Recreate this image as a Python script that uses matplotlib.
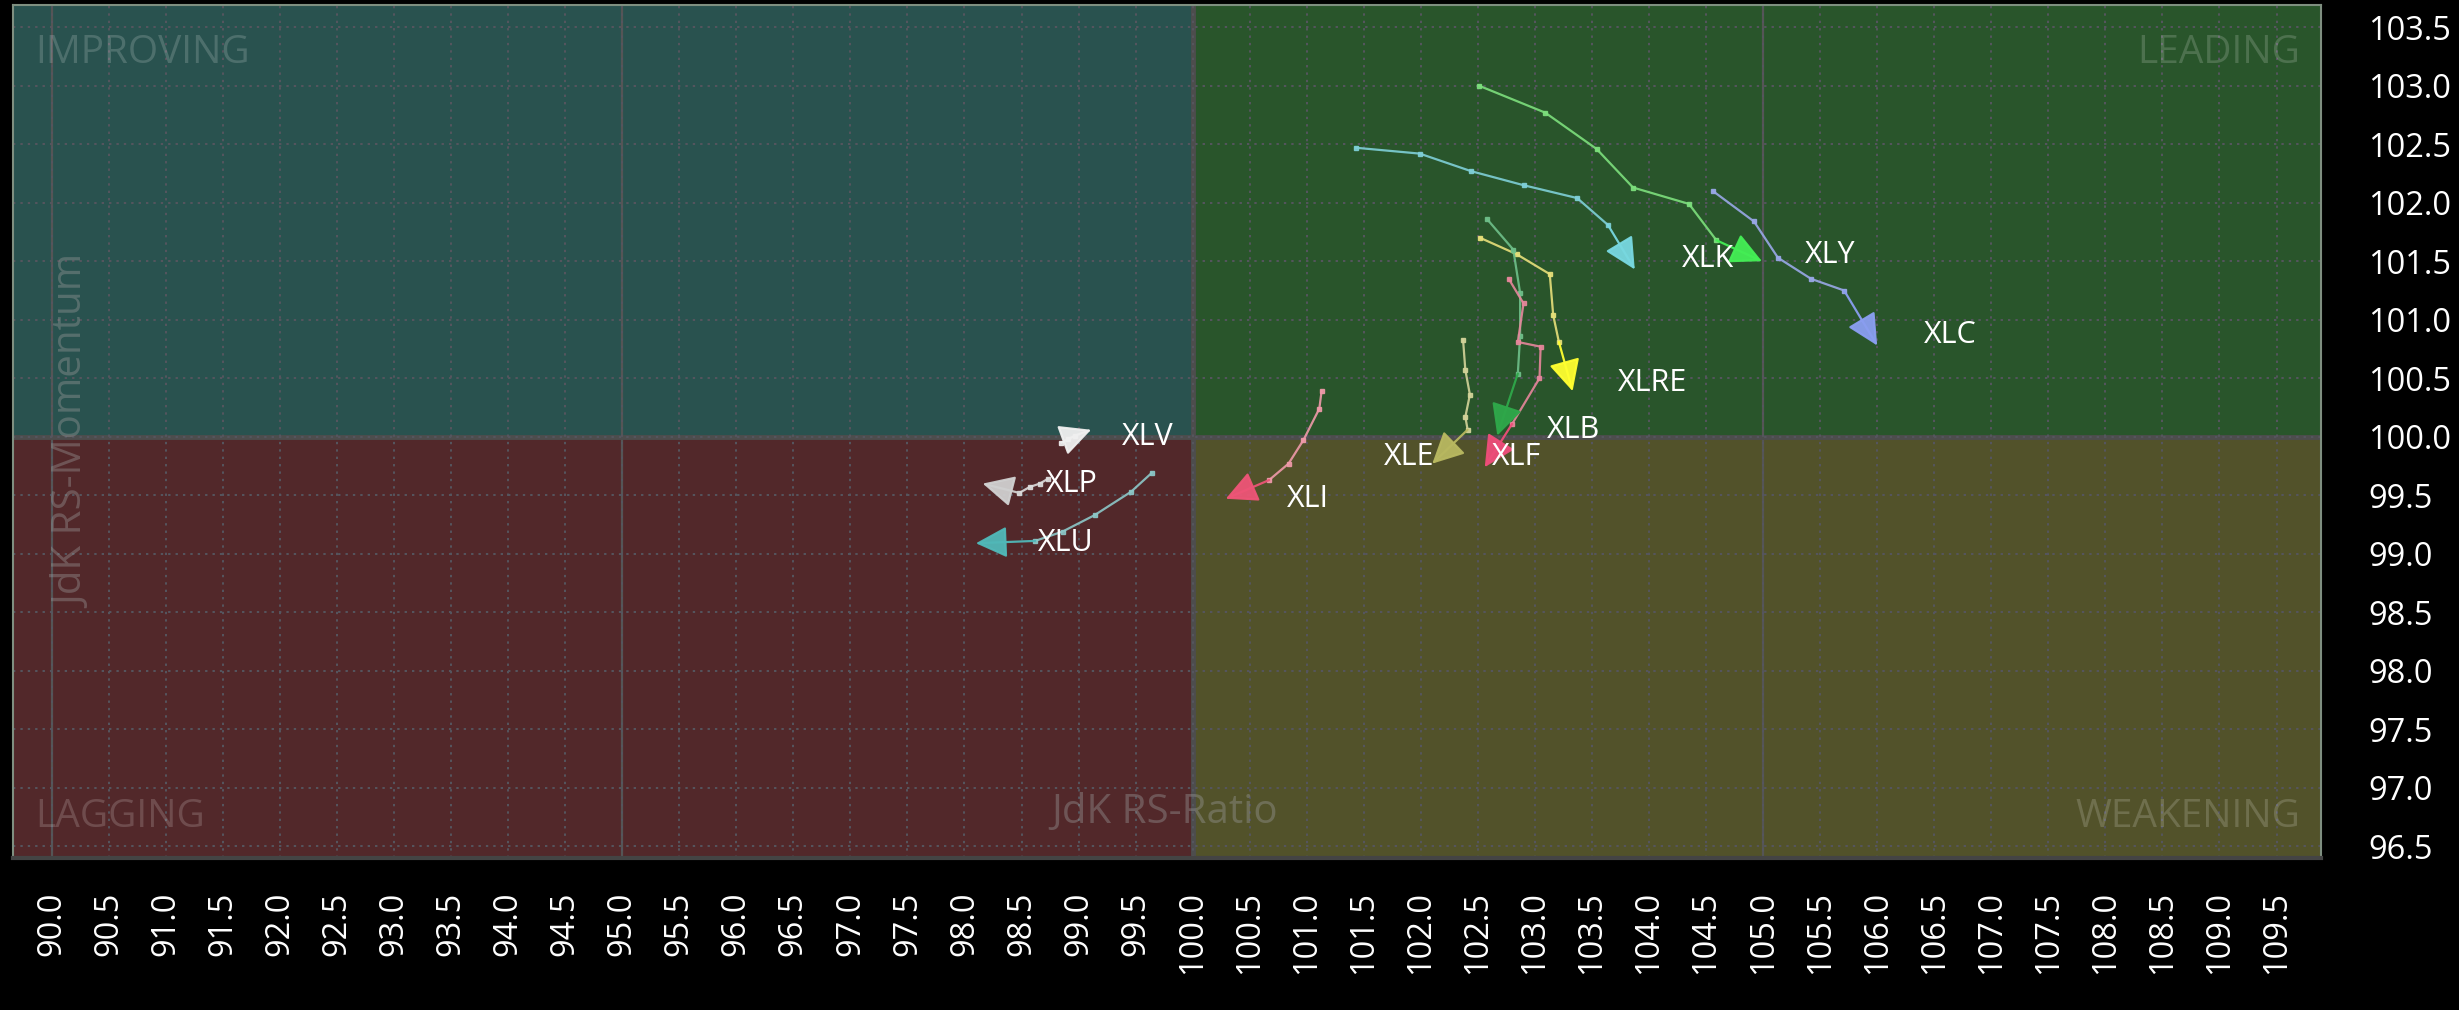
import matplotlib.pyplot as plt
from matplotlib.patches import Rectangle
import numpy as np

plt.rcParams['font.family'] = ['Open Sans', 'DejaVu Sans']

# Sector trails: JdK RS-Ratio (x) and RS-Momentum (y), oldest -> latest
tickers = ['XLK', 'XLY', 'XLC', 'XLRE', 'XLB', 'XLF', 'XLE', 'XLI', 'XLV', 'XLP', 'XLU']

rs_ratio = {
    'XLK': [101.43, 101.99, 102.44, 102.90, 103.37, 103.64, 103.875],
    'XLY': [102.51, 103.09, 103.54, 103.86, 104.35, 104.59, 104.99],
    'XLC': [104.56, 104.92, 105.13, 105.42, 105.71, 106.00],
    'XLRE': [102.52, 102.84, 103.13, 103.16, 103.21, 103.33],
    'XLB': [102.58, 102.81, 102.87, 102.87, 102.85, 102.67],
    'XLF': [102.77, 102.90, 102.85, 103.05, 103.04, 102.80, 102.56],
    'XLE': [102.37, 102.39, 102.43, 102.39, 102.41, 102.10],
    'XLI': [101.13, 101.11, 100.97, 100.84, 100.67, 100.29],
    'XLV': [98.85, 98.91, 98.97, 99.11],
    'XLP': [98.73, 98.66, 98.57, 98.48, 98.16],
    'XLU': [99.64, 99.46, 99.14, 98.86, 98.62, 98.10],
}
rs_momentum = {
    'XLK': [102.47, 102.42, 102.27, 102.15, 102.04, 101.81, 101.43],
    'XLY': [103.00, 102.77, 102.46, 102.13, 101.99, 101.68, 101.50],
    'XLC': [102.10, 101.84, 101.53, 101.35, 101.25, 100.78],
    'XLRE': [101.70, 101.56, 101.39, 101.04, 100.81, 100.39],
    'XLB': [101.86, 101.60, 101.23, 100.86, 100.54, 100.01],
    'XLF': [101.35, 101.14, 100.81, 100.77, 100.50, 100.11, 99.74],
    'XLE': [100.83, 100.57, 100.36, 100.17, 100.06, 99.77],
    'XLI': [100.39, 100.24, 99.97, 99.77, 99.63, 99.47],
    'XLV': [99.95, 99.98, 100.01, 100.06],
    'XLP': [99.64, 99.60, 99.57, 99.52, 99.60],
    'XLU': [99.69, 99.53, 99.33, 99.19, 99.11, 99.09],
}

x_ticks = np.arange(90.0, 110.0, 0.5)
y_ticks = np.arange(96.5, 104.0, 0.5)

# colours: (trail, head)
colors = {
    'XLK': ('#7fd0d8', '#78d8e0'),
    'XLY': ('#7de07d', '#44ee55'),
    'XLC': ('#9aa8e8', '#8a9ef0'),
    'XLRE': ('#e8e07a', '#ffff30'),
    'XLB': ('#6fc08a', '#2fa84a'),
    'XLF': ('#e8879c', '#ee4d7a'),
    'XLE': ('#d4d49a', '#b8b860'),
    'XLI': ('#f09aaa', '#ee5577'),
    'XLV': ('#eeeeee', '#f0f0f0'),
    'XLP': ('#dddddd', '#d0d0d0'),
    'XLU': ('#8cc8c8', '#50b8b8'),
}
# label offset from the head, in data units
label_off = {
    'XLK': (0.645, 0.09), 'XLY': (0.60, 0.05), 'XLC': (0.64, 0.09),
    'XLRE': (0.70, 0.07), 'XLB': (0.67, 0.05), 'XLF': (0.28, 0.09),
    'XLE': (-0.20, 0.06), 'XLI': (0.72, 0.0), 'XLV': (0.50, -0.06),
    'XLP': (0.78, 0.0), 'XLU': (0.79, 0.0),
}

fig = plt.figure(figsize=(24.59, 10.10), dpi=100, facecolor='black')
ax = fig.add_axes([13 / 2459, 1 - 858 / 1010, 2308 / 2459, 853 / 1010])
x0, x1 = 89.66, 109.89
y0, y1 = 96.40, 103.69
ax.set_xlim(x0, x1)
ax.set_ylim(y0, y1)

# quadrants
ax.add_patch(Rectangle((x0, 100), 100 - x0, y1 - 100, color='#29524f', zorder=0))
ax.add_patch(Rectangle((100, 100), x1 - 100, y1 - 100, color='#29552b', zorder=0))
ax.add_patch(Rectangle((x0, y0), 100 - x0, 100 - y0, color='#52282a', zorder=0))
ax.add_patch(Rectangle((100, y0), x1 - 100, 100 - y0, color='#52522a', zorder=0))

ax.grid(True, color='#56565f', linestyle=(0, (1.2, 2.6)), linewidth=1.4, zorder=1)
for v in [90, 95, 105]:
    ax.axvline(v, color='#555555', lw=1.6, zorder=1)
ax.axvline(100, color='#4d4d4d', lw=3.5, zorder=1)
ax.axhline(100, color='#4d4d4d', lw=3.5, zorder=1)

for s in ['top', 'left', 'right']:
    ax.spines[s].set_color('#7f8f80')
    ax.spines[s].set_linewidth(1.5)
ax.spines['bottom'].set_color('#444444')
ax.spines['bottom'].set_linewidth(3)

ax.set_xticks(x_ticks)
ax.set_xticklabels([f'{v:.1f}' for v in x_ticks], rotation=90, color='white', fontsize=23.5)
ax.set_yticks(y_ticks)
ax.set_yticklabels([f'{v:.1f}' for v in y_ticks], color='white', fontsize=23.5)
ax.yaxis.tick_right()
ax.tick_params(axis='x', length=0, pad=24)
ax.tick_params(axis='y', length=0, pad=34)

qc = (1, 1, 1, 0.17)
ax.text(0.0095, 0.944, 'IMPROVING', transform=ax.transAxes, color=qc, fontsize=28, va='center', ha='left')
ax.text(0.991, 0.944, 'LEADING', transform=ax.transAxes, color=qc, fontsize=28, va='center', ha='right')
ax.text(0.0095, 0.048, 'LAGGING', transform=ax.transAxes, color=qc, fontsize=28, va='center', ha='left')
ax.text(0.991, 0.048, 'WEAKENING', transform=ax.transAxes, color=qc, fontsize=28, va='center', ha='right')
ax.text(0.499, 0.053, 'JdK RS-Ratio', transform=ax.transAxes, color=(0.6, 0.6, 0.6, 0.4), fontsize=29, va='center', ha='center')
ax.text(0.0265, 0.50, 'JdK RS-Momentum', transform=ax.transAxes, color=(0.6, 0.6, 0.6, 0.4), fontsize=29,
        va='center', ha='center', rotation=90)

for t in tickers:
    xs, ys = rs_ratio[t], rs_momentum[t]
    lc, hc = colors[t]
    ax.plot(xs[:-1], ys[:-1], color=lc, lw=1.6, marker='s', ms=3.5, alpha=0.9, zorder=3)
    ax.annotate('', xy=(xs[-1], ys[-1]), xytext=(xs[-2], ys[-2]),
                arrowprops=dict(arrowstyle='-|>,head_length=1.3,head_width=0.65', mutation_scale=15,
                                color=hc, lw=1.6, shrinkA=0, shrinkB=0, alpha=0.95), zorder=4)
    dx, dy = label_off[t]
    ax.text(xs[-1] + dx, ys[-1] + dy, t, color='white', fontsize=22, ha='center', va='center', zorder=5)

fig.savefig('out.png', dpi=100, facecolor='black')
